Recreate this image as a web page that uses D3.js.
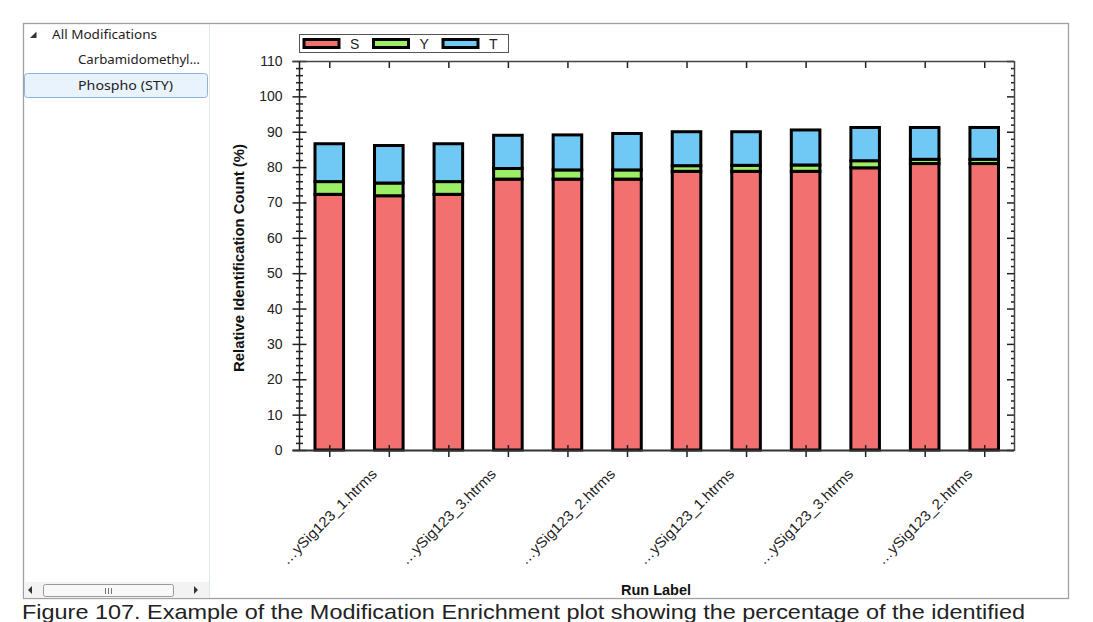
<!DOCTYPE html>
<html><head><meta charset="utf-8">
<script src="https://cdn.jsdelivr.net/npm/d3@7/dist/d3.min.js"></script>
<style>
html,body{margin:0;padding:0;background:#fff;}
svg{display:block;}
</style></head>
<body>
<svg id="c" width="1093" height="622"></svg>
<script>
// ---- data ----
const runs = ["…ySig123_3.htrms","…ySig123_1.htrms","…ySig123_2.htrms","…ySig123_3.htrms",
              "…ySig123_1.htrms","…ySig123_2.htrms","…ySig123_3.htrms","…ySig123_1.htrms",
              "…ySig123_2.htrms","…ySig123_3.htrms","…ySig123_1.htrms","…ySig123_2.htrms"];
const seriesNames = ["S","Y","T"];
const sValues = [72.3, 71.9, 72.3, 76.6, 76.6, 76.6, 78.8, 78.8, 78.8, 79.8, 81.0, 81.0];
const yValues = [3.6, 3.6, 3.6, 3.0, 2.6, 2.6, 1.6, 1.7, 1.8, 2.0, 1.2, 1.2];
const tValues = [10.7, 10.6, 10.7, 9.4, 9.9, 10.3, 9.6, 9.5, 9.9, 9.4, 9.0, 9.0];
const yTicks = [0,10,20,30,40,50,60,70,80,90,100,110];
const treeItems = ["All Modifications","Carbamidomethyl…","Phospho (STY)"];
const caption = "Figure 107. Example of the Modification Enrichment plot showing the percentage of the identified";

const colors = {S:"#f27070", Y:"#9cee66", T:"#70c8f4"};
const svg = d3.select("#c");
const AX = "Liberation Sans, Arial, sans-serif";

// ---- window chrome ----
svg.append("rect").attr("x",23.5).attr("y",23.5).attr("width",1045).attr("height",575)
  .attr("fill","#fff").attr("stroke","#a0a0a0").attr("stroke-width",1.3);
svg.append("line").attr("x1",209.5).attr("x2",209.5).attr("y1",24).attr("y2",598)
  .attr("stroke","#dbe6f2").attr("stroke-width",1);

// tree
svg.append("path").attr("d","M30,38 L36.5,38 L36.5,31.5 Z").attr("fill","#333");
svg.append("rect").attr("x",24.5).attr("y",73.5).attr("width",183).attr("height",24).attr("rx",3)
  .attr("fill","#e9f3fd").attr("stroke","#8db2e0").attr("stroke-width",1);
const TF = "Noto Sans, Open Sans, sans-serif";
const treePos = [[52,39,105],[78,64,122],[78,90,95]];
treeItems.forEach((t,i)=>{
  svg.append("text").attr("x",treePos[i][0]).attr("y",treePos[i][1]).text(t)
    .attr("font-family",TF).attr("font-size",13).attr("fill","#1e1e1e")
    .attr("textLength",treePos[i][2]).attr("lengthAdjust","spacingAndGlyphs");
});

// scrollbar
svg.append("rect").attr("x",24).attr("y",582).attr("width",185).attr("height",16).attr("fill","#f3f3f3");
svg.append("path").attr("d","M28,590 L32,586 L32,594 Z").attr("fill","#333");
svg.append("path").attr("d","M198,590 L194,586 L194,594 Z").attr("fill","#333");
svg.append("rect").attr("x",43.5).attr("y",584.5).attr("width",130).attr("height",12).attr("rx",2)
  .attr("fill","#f8f8f8").attr("stroke","#9a9a9a");
[105,108,111].forEach(x=>svg.append("line").attr("x1",x+0.5).attr("x2",x+0.5).attr("y1",588).attr("y2",594).attr("stroke","#777"));

// ---- chart ----
const x0 = 299.5, x1 = 1014, yTop = 61, yBot = 450;
const x = d3.scaleBand().domain(d3.range(runs.length)).range([x0, x1]).paddingInner(0.52).paddingOuter(0.26);
const y = d3.scaleLinear().domain([0,110]).range([yBot, yTop]);

const stackData = runs.map((r,i)=>({i, S:sValues[i], Y:yValues[i], T:tValues[i]}));
const stack = d3.stack().keys(seriesNames)(stackData);
const g = svg.append("g");
stack.forEach(layer=>{
  g.selectAll(null).data(layer).enter().append("rect")
    .attr("x", d=>x(d.data.i))
    .attr("width", x.bandwidth())
    .attr("y", d=>y(d[1]))
    .attr("height", d=>y(d[0])-y(d[1]))
    .attr("fill", colors[layer.key])
    .attr("stroke","#000").attr("stroke-width",3);
});

// axes
const major = yTicks;
const minor = d3.range(0,111,2).filter(v=>v%10!==0);
function styleAxis(sel){ sel.select(".domain").remove(); sel.selectAll("line").attr("stroke","#222").attr("stroke-width",1.5); }
// left
svg.append("g").attr("transform",`translate(${x0},0)`)
  .call(d3.axisLeft(y).tickValues(major).tickSize(7).tickPadding(10).tickFormat(d3.format("d")))
  .call(styleAxis)
  .call(s=>s.selectAll("text").attr("font-family",AX).attr("font-size",14).attr("fill","#222"));
svg.append("g").attr("transform",`translate(${x0},0)`)
  .call(d3.axisRight(y).tickValues(major).tickSize(7).tickFormat("")).call(styleAxis);
svg.append("g").attr("transform",`translate(${x0},0)`)
  .call(d3.axisLeft(y).tickValues(minor).tickSize(3.5).tickFormat("")).call(styleAxis);
svg.append("g").attr("transform",`translate(${x0},0)`)
  .call(d3.axisRight(y).tickValues(minor).tickSize(3.5).tickFormat("")).call(styleAxis);
// right
svg.append("g").attr("transform",`translate(${x1},0)`)
  .call(d3.axisLeft(y).tickValues(major).tickSize(7).tickFormat("")).call(styleAxis);
svg.append("g").attr("transform",`translate(${x1},0)`)
  .call(d3.axisLeft(y).tickValues(minor).tickSize(3).tickFormat("")).call(styleAxis);
// bottom
const xc = d3.scalePoint().domain(d3.range(runs.length)).range([x(0)+x.bandwidth()/2, x(runs.length-1)+x.bandwidth()/2]);
svg.append("g").attr("transform",`translate(0,${yBot})`)
  .call(d3.axisBottom(xc).tickSize(7).tickFormat("")).call(styleAxis);
svg.append("g").attr("transform",`translate(0,${yBot})`)
  .call(d3.axisTop(xc).tickSize(5).tickFormat("")).call(styleAxis);
// top
svg.append("g").attr("transform",`translate(0,${yTop})`)
  .call(d3.axisBottom(xc).tickSize(7).tickFormat("")).call(styleAxis);
// axis lines
svg.append("line").attr("x1",292.5).attr("x2",x1).attr("y1",yBot+0.5).attr("y2",yBot+0.5).attr("stroke","#333").attr("stroke-width",2);
svg.append("line").attr("x1",292.5).attr("x2",x1).attr("y1",yTop+0.5).attr("y2",yTop+0.5).attr("stroke","#444").attr("stroke-width",1.5);
svg.append("line").attr("x1",x0).attr("x2",x0).attr("y1",yTop).attr("y2",yBot).attr("stroke","#222").attr("stroke-width",1.5);
svg.append("line").attr("x1",x1+0.5).attr("x2",x1+0.5).attr("y1",yTop).attr("y2",yBot+1).attr("stroke","#444").attr("stroke-width",1.5);

// x tick labels (every other run)
svg.append("g").selectAll("text").data(d3.range(runs.length).filter(i=>i%2===1)).enter().append("text")
  .attr("transform", i=>`translate(${xc(i)-11},${yBot+25}) rotate(-45)`)
  .attr("text-anchor","end").attr("font-family",AX).attr("font-size",14.5).attr("fill","#222")
  .attr("textLength",128).attr("lengthAdjust","spacingAndGlyphs")
  .text(i=>runs[i]);

// axis titles
svg.append("text").attr("transform",`translate(244,258) rotate(-90)`).attr("text-anchor","middle")
  .attr("font-family",AX).attr("font-weight","bold").attr("font-size",14).attr("fill","#111")
  .attr("textLength",228).attr("lengthAdjust","spacingAndGlyphs")
  .text("Relative Identification Count (%)");
svg.append("text").attr("x",656).attr("y",595).attr("text-anchor","middle")
  .attr("font-family",AX).attr("font-weight","bold").attr("font-size",14.5).attr("fill","#111")
  .text("Run Label");

// legend
const lg = svg.append("g");
lg.append("rect").attr("x",299.5).attr("y",34.5).attr("width",209).attr("height",18).attr("fill","#fff").attr("stroke","#555").attr("stroke-width",1);
seriesNames.forEach((k,i)=>{
  const lx = 304 + i*69.5;
  lg.append("rect").attr("x",lx).attr("y",39.5).attr("width",35).attr("height",8)
    .attr("fill",colors[k]).attr("stroke","#000").attr("stroke-width",3);
  lg.append("text").attr("x",lx+46).attr("y",49).text(k)
    .attr("font-family",AX).attr("font-size",14).attr("fill","#222");
});

// caption
svg.append("text").attr("x",22).attr("y",619).text(caption)
  .attr("font-family",AX).attr("font-size",21).attr("fill","#222")
  .attr("textLength",1003).attr("lengthAdjust","spacingAndGlyphs");
</script>
</body></html>
